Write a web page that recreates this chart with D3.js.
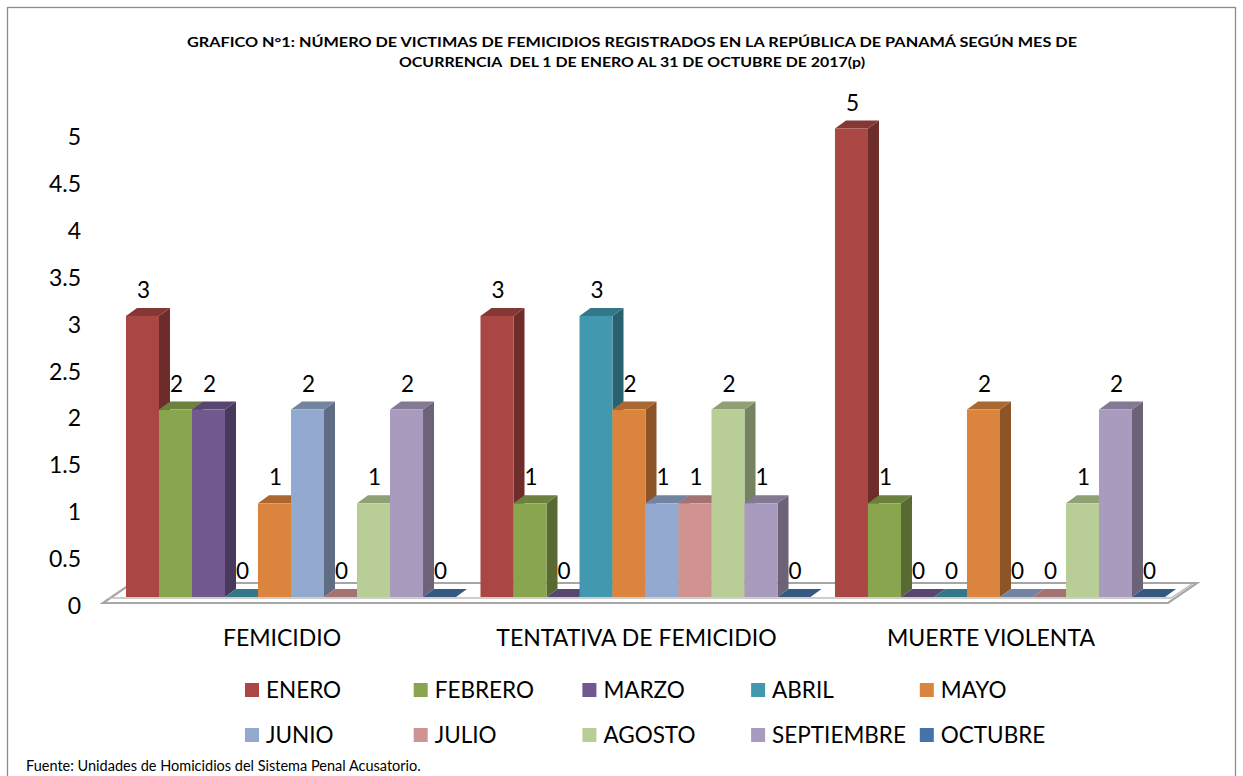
<!DOCTYPE html>
<html>
<head>
<meta charset="utf-8">
<script src="https://cdn.jsdelivr.net/npm/d3@7/dist/d3.min.js"></script>
<style>
  html, body { margin: 0; padding: 0; background: #fff; }
  svg { display: block; font-family: Lato, "Open Sans", sans-serif; }
  .title { white-space: pre; }
</style>
</head>
<body>
<svg id="chart" width="1243" height="776"></svg>
<script>
// ---- data ----
const categories = ["FEMICIDIO", "TENTATIVA DE FEMICIDIO", "MUERTE VIOLENTA"];
const months = ["ENERO", "FEBRERO", "MARZO", "ABRIL", "MAYO", "JUNIO", "JULIO", "AGOSTO", "SEPTIEMBRE", "OCTUBRE"];
const enero      = [3, 3, 5];
const febrero    = [2, 1, 1];
const marzo      = [2, 0, 0];
const abril      = [0, 3, 0];
const mayo       = [1, 2, 2];
const junio      = [2, 1, 0];
const julio      = [0, 1, 0];
const agosto     = [1, 2, 1];
const septiembre = [2, 1, 2];
const octubre    = [0, 0, 0];
const seriesValues = [enero, febrero, marzo, abril, mayo, junio, julio, agosto, septiembre, octubre];
const yTicks = [0, 0.5, 1, 1.5, 2, 2.5, 3, 3.5, 4, 4.5, 5];
const colors = ["#AA4643", "#89A54E", "#71588F", "#4198AF", "#DB843D", "#93A9CF", "#D19392", "#B9CD96", "#A99BBD", "#4572A7"];
const titleLines = [
  "GRAFICO N°1: NÚMERO DE VICTIMAS DE FEMICIDIOS REGISTRADOS EN LA REPÚBLICA DE PANAMÁ SEGÚN MES DE",
  "OCURRENCIA  DEL 1 DE ENERO AL 31 DE OCTUBRE DE 2017(p)"
];
const source = "Fuente: Unidades de Homicidios del Sistema Penal Acusatorio.";

// ---- layout ----
const svg = d3.select("#chart");
const DX = 11, DY = -8;            // bar depth offset
const floorY = 597;

const x0 = d3.scaleBand().domain(categories).range([126, 1165]).paddingInner(0.069).paddingOuter(0);
const x1 = d3.scaleBand().domain(months).range([0, x0.bandwidth()]).padding(0);
const y = d3.scaleLinear().domain([0, 5]).range([floorY, 128.5]);
const yLab = d3.scaleLinear().domain([0, 5]).range([605, 136.5]);

// border
svg.append("rect")
  .attr("x", 7.5).attr("y", 7.5).attr("width", 1228).attr("height", 800)
  .attr("fill", "none").attr("stroke", "#8c8c8c").attr("stroke-width", 1.3);

// title
svg.append("g").selectAll("text").data(titleLines).join("text")
  .attr("class", "title")
  .attr("x", 632).attr("y", (d, i) => 47 + i * 19.5)
  .attr("text-anchor", "middle")
  .attr("font-size", 13).attr("font-weight", "bold").attr("fill", "#000")
  .attr("textLength", (d, i) => i === 0 ? 890 : 466)
  .attr("lengthAdjust", "spacingAndGlyphs")
  .text(d => d);

// y axis labels (no line, no ticks)
const yAxis = d3.axisLeft(yLab).tickValues(yTicks).tickSize(0).tickPadding(0).tickFormat(d3.format(""));
const gy = svg.append("g").attr("transform", "translate(81,0)").call(yAxis);
gy.select(".domain").remove();
gy.selectAll("text").attr("font-size", 23).attr("font-family", "Lato, sans-serif").attr("fill", "#000").attr("dy", "0.36em");

// floor slab
const fl = 103, fr = 1168, fb = 583, ff = 603;
svg.append("path")
  .attr("d", `M${fl},${ff} L${fl + 29},${fb} L${fr + 29},${fb} L${fr},${ff} Z`)
  .attr("fill", "#fff").attr("stroke", "#a6a6a6").attr("stroke-width", 2.2);
svg.append("path")
  .attr("d", `M${fl + 6},${floorY + 1} L${fr + 3},${floorY + 1} L${fr + 24},${fb + 1}`)
  .attr("fill", "none").attr("stroke", "#bdbdbd").attr("stroke-width", 1.5);

// bars
function shade(c, k) {
  const col = d3.rgb(c);
  return d3.rgb(col.r * k, col.g * k, col.b * k).formatHex();
}
const barsG = svg.append("g");
categories.forEach((cat, ci) => {
  months.forEach((m, mi) => {
    const v = seriesValues[mi][ci];
    const xa = x0(cat) + x1(m), xb = xa + x1.bandwidth();
    const yt = y(v);
    const c = colors[mi];
    const g = barsG.append("g");
    if (v > 0) {
      g.append("path")
        .attr("d", `M${xb},${yt} L${xb + DX},${yt + DY} L${xb + DX},${floorY + DY} L${xb},${floorY} Z`)
        .attr("fill", shade(c, 0.64));
    }
    g.append("path")
      .attr("d", `M${xa},${yt} L${xa + DX},${yt + DY} L${xb + DX},${yt + DY} L${xb},${yt} Z`)
      .attr("fill", shade(c, 0.78));
    if (v > 0) {
      g.append("rect")
        .attr("x", xa).attr("y", yt).attr("width", xb - xa).attr("height", floorY - yt)
        .attr("fill", c);
    }
  });
});

// data labels
const labG = svg.append("g");
categories.forEach((cat, ci) => {
  months.forEach((m, mi) => {
    const v = seriesValues[mi][ci];
    labG.append("text")
      .attr("x", x0(cat) + x1(m) + x1.bandwidth() / 2 + 1)
      .attr("y", y(v) - 26)
      .attr("dy", "0.36em")
      .attr("text-anchor", "middle")
      .attr("font-size", 22.5).attr("fill", "#000")
      .text(v);
  });
});

// category labels
const xAxis = d3.axisBottom(x0).tickSize(0).tickPadding(0);
const gx = svg.append("g").attr("transform", "translate(-9,638)").call(xAxis);
gx.select(".domain").remove();
gx.selectAll("text").attr("font-size", 23).attr("font-family", "Lato, sans-serif").attr("fill", "#000").attr("dy", "0.36em");

// legend
const legend = svg.append("g");
months.forEach((m, i) => {
  const col = i % 5, row = Math.floor(i / 5);
  const lx = 245 + col * 168.7, ly = 690 + row * 45;
  legend.append("rect").attr("x", lx).attr("y", ly - 7).attr("width", 14).attr("height", 14).attr("fill", colors[i]);
  legend.append("text").attr("x", lx + 21).attr("y", ly).attr("dy", "0.36em")
    .attr("font-size", 22.5).attr("fill", "#000").text(m);
});

// source
svg.append("text").attr("x", 26).attr("y", 771).attr("font-size", 14.5).attr("fill", "#000").text(source);
</script>
</body>
</html>
